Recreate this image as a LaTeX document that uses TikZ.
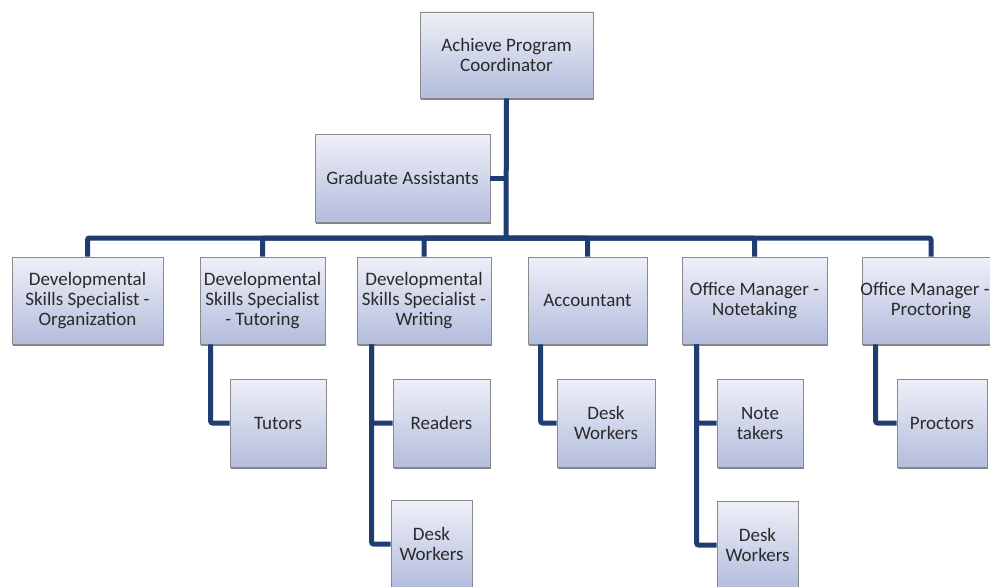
\documentclass[tikz,border=0pt]{standalone}
\usepackage{fontspec}
\setmainfont{Carlito}
\usetikzlibrary{shadows}
\definecolor{linkc}{HTML}{1F3D70}
\definecolor{boxtop}{HTML}{EEF0F8}
\definecolor{boxbot}{HTML}{B3BCDC}
\definecolor{boxdraw}{HTML}{8A8A8A}
\definecolor{txt}{HTML}{2A2A2A}
\tikzset{
  orgbox/.style={rectangle, draw=boxdraw, line width=0.8pt, top color=boxtop, bottom color=boxbot,
    align=center, text=txt, font=\fontsize{19}{20}\selectfont, inner sep=1pt,
    drop shadow={shadow xshift=0.8pt, shadow yshift=-1.8pt, fill=black!55, opacity=0.9}},
  link/.style={draw=linkc, line width=5pt, rounded corners=2pt},
}
\begin{document}
\begin{tikzpicture}[x=1pt,y=-1pt]
\useasboundingbox (0,0) rectangle (990,586);
\clip (0,0) rectangle (990,586);
% nodes
\node[orgbox, minimum width=173pt, minimum height=86pt] (top) at (506.5,55) {Achieve Program\\Coordinator};
\node[orgbox, minimum width=175pt, minimum height=88pt] (ga) at (402.5,178) {Graduate Assistants};
\node[orgbox, minimum width=151pt, minimum height=87pt] (b1) at (87.5,300.5) {Developmental\\Skills Specialist -\\Organization};
\node[orgbox, minimum width=125pt, minimum height=87pt] (b2) at (262.5,300.5) {Developmental\\Skills Specialist\\- Tutoring};
\node[orgbox, minimum width=134pt, minimum height=87pt] (b3) at (424,300.5) {Developmental\\Skills Specialist -\\Writing};
\node[orgbox, minimum width=119pt, minimum height=87pt] (b4) at (587.5,300.5) {Accountant};
\node[orgbox, minimum width=145pt, minimum height=87pt] (b5) at (754.5,300.5) {Office Manager -\\Notetaking};
\node[orgbox, minimum width=138pt, minimum height=87pt, inner xsep=-4pt] (b6) at (931,300.5) {Office Manager -\kern12pt\\Proctoring};
\node[orgbox, minimum width=96pt, minimum height=88pt] (tutors) at (278,423) {Tutors};
\node[orgbox, minimum width=97pt, minimum height=88pt] (readers) at (441.5,423) {Readers};
\node[orgbox, minimum width=81pt, minimum height=88pt] (dw1) at (431.5,544) {Desk\\Workers};
\node[orgbox, minimum width=98pt, minimum height=88pt] (dw2) at (606,423) {Desk\\Workers};
\node[orgbox, minimum width=86pt, minimum height=88pt] (notes) at (760,423) {Note\\takers};
\node[orgbox, minimum width=81pt, minimum height=88pt] (dw3) at (757.5,545) {Desk\\Workers};
\node[orgbox, minimum width=90pt, minimum height=88pt] (proctors) at (942,423) {Proctors};
% connectors
\coordinate (j) at (506,238);
\draw[link] (top.south) -- (j);
\draw[link] (ga.east) -- (ga.east -| j);
\foreach \b in {b1,b2,b3,b4,b5,b6}{
  \draw[link] (\b.north) |- (j);
}
\draw[link] ([xshift=11pt]b2.south west) |- (tutors.west);
\draw[link] ([xshift=15pt]b3.south west) |- (readers.west);
\draw[link] ([xshift=15pt]b3.south west) |- (dw1.west);
\draw[link] ([xshift=13pt]b4.south west) |- (dw2.west);
\draw[link] ([xshift=15pt]b5.south west) |- (notes.west);
\draw[link] ([xshift=15pt]b5.south west) |- (dw3.west);
\draw[link] ([xshift=14pt]b6.south west) |- (proctors.west);
\end{tikzpicture}
\end{document}
